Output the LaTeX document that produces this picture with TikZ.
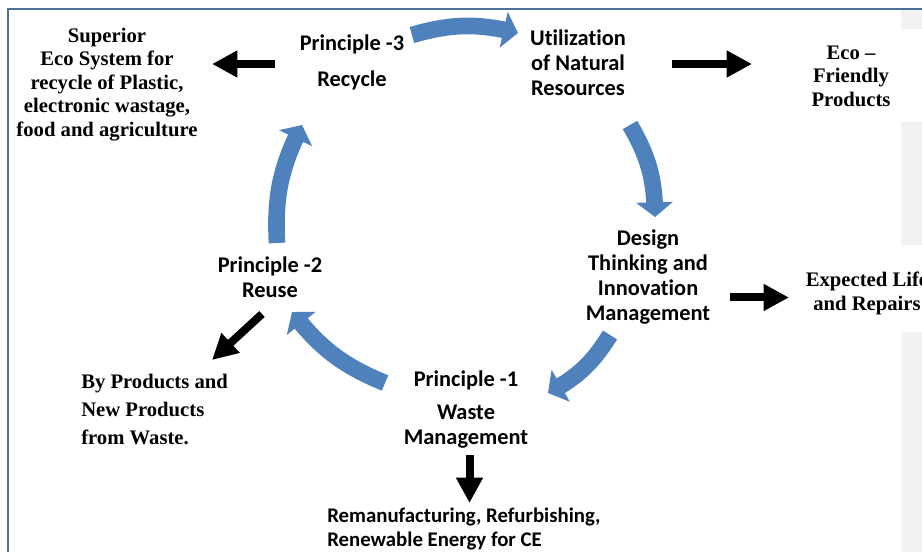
\documentclass[tikz,border=0pt]{standalone}
\usepackage{fontspec}
\setmainfont{Liberation Serif}
\newfontfamily\calibri[Ligatures=NoCommon]{Carlito}
\usepackage{xcolor}
\usetikzlibrary{arrows.meta,bending}
\definecolor{ceblue}{RGB}{79,129,189}
\definecolor{framec}{RGB}{74,112,155}
\definecolor{panelgray}{RGB}{242,242,242}

\begin{document}
\begin{tikzpicture}[x=0.75pt,y=0.75pt]
            \tikzset{
            ce node/.style={align=center,inner sep=0,font=\calibri\bfseries\fontsize{16.8}{18.75}\selectfont},
            out node/.style={align=center,inner sep=0,font=\bfseries\fontsize{15.5}{17.6}\selectfont},
            ce edge/.style={line width=12.5pt,ceblue,-{Triangle[width=27pt,length=11pt]}},
            out edge/.style={line width=6pt,black,-{Triangle[width=19pt,length=19pt]}}
            }
            \useasboundingbox (0,0) rectangle (922,-552);
            % frame and side panels
            \fill[panelgray] (901,-10) rectangle (922,-29);
            \fill[panelgray] (901,-122) rectangle (922,-245);
            \fill[panelgray] (901,-332) rectangle (922,-552);
            \draw[framec,line width=1.5pt] (8,-552) -- (8,-9) -- (922,-9);

            \node[ce node] (P3) at (352,-62.5) {Principle -3\\[8pt]Recycle};
            \node[ce node] (NR) at (578,-63) {Utilization\\of Natural\\Resources};
            \node[ce node] (DT) at (648,-277.5) {Design\\Thinking and\\Innovation\\Management};
            \node[ce node] (P1) at (466,-409.5) {Principle -1\\[6pt]Waste\\Management};
            \node[ce node] (P2) at (270,-277.5) {Principle -2\\Reuse};
            \node[ce node,align=left,anchor=west,font=\calibri\bfseries\fontsize{15.6}{18}\selectfont] (RE) at (327,-529) {Remanufacturing, Refurbishing,\\Renewable Energy for CE};

            \node[out node] (ES) at (107,-84.5) {Superior\\Eco System for\\recycle of Plastic,\\electronic wastage,\\food and agriculture};
            \node[out node] (EF) at (851,-76) {Eco --\\Friendly\\Products};
            \node[out node] (EL) at (867,-293.5) {Expected Life\\and Repairs};
            \node[out node,align=left,anchor=west,font=\bfseries\fontsize{15.5}{21}\selectfont] (BP) at (81,-409) {By Products and\\New Products\\from Waste.};

            \coordinate (c1a) at (412,-35);
            \coordinate (c1b) at (518,-33);
            \coordinate (c2a) at (630,-125);
            \coordinate (c2b) at (655,-217);
            \coordinate (c3a) at (610,-335);
            \coordinate (c3b) at (548,-393);
            \coordinate (c4a) at (385,-383);
            \coordinate (c4b) at (292,-312);
            \coordinate (c5a) at (277,-243);
            \coordinate (c5b) at (302,-125);

            \coordinate (o1a) at (275,-64);
            \coordinate (o1b) at (212,-64);
            \coordinate (o2a) at (672,-64);
            \coordinate (o2b) at (752,-64);
            \coordinate (o3a) at (730,-297.5);
            \coordinate (o3b) at (789,-297.5);
            \coordinate (o4a) at (262,-314);
            \coordinate (o4b) at (212,-360);
            \coordinate (o5a) at (469.5,-455);
            \coordinate (o5b) at (469.5,-503);

            \path[ce edge, bend left = 15]
            (c1a) edge[] (c1b)
            (c2a) edge[] (c2b)
            (c3a) edge[] (c3b)
            (c4a) edge[] (c4b)
            (c5a) edge[] (c5b);

            \path[out edge]
            (o1a) edge (o1b)
            (o2a) edge (o2b)
            (o3a) edge (o3b)
            (o4a) edge (o4b)
            (o5a) edge (o5b)
            ;
        \end{tikzpicture}
\end{document}
